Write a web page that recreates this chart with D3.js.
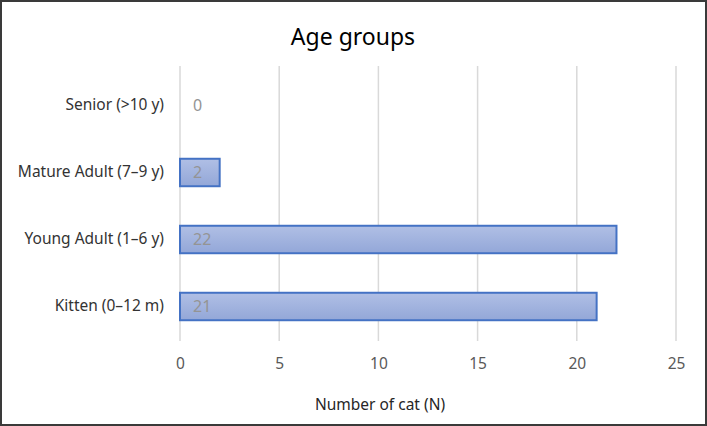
<!DOCTYPE html>
<html><head><meta charset="utf-8">
<script src="https://cdn.jsdelivr.net/npm/d3@7"></script>
<style>body{margin:0;background:#fff}svg{display:block}text{font-family:"Noto Sans","Open Sans",sans-serif}</style>
</head><body><svg id="c" width="707" height="426"></svg>
<script>
const categories = ["Senior (>10 y)", "Mature Adult (7\u20139 y)", "Young Adult (1\u20136 y)", "Kitten (0\u201312 m)"];
const values = [0, 2, 22, 21];
const tickValues = [0, 5, 10, 15, 20, 25];
const title = "Age groups";
const xTitle = "Number of cat (N)";

const svg = d3.select("#c");
const W = 707, H = 426;
const m = {l:180, r:31, t:72, b:86};
svg.append("rect").attr("x",1).attr("y",1).attr("width",W-2).attr("height",H-2)
  .attr("fill","#fff").attr("stroke","#3a3a3a").attr("stroke-width",2);

const defs = svg.append("defs");
const g = defs.append("linearGradient").attr("id","bg").attr("x1",0).attr("y1",0).attr("x2",0).attr("y2",1);
g.append("stop").attr("offset","0%").attr("stop-color","#b0bfe5");
g.append("stop").attr("offset","100%").attr("stop-color","#93a7d8");

const x = d3.scaleLinear().domain([0,25]).range([m.l, W-m.r]);
const y = d3.scaleBand().domain(categories).range([m.t, H-m.b]).paddingInner(0.59).paddingOuter(0.295);

// gridlines
svg.append("g").selectAll("line").data(tickValues).join("line")
  .attr("x1",d=>x(d)).attr("x2",d=>x(d)).attr("y1",m.t-6).attr("y2",H-m.b+1)
  .attr("stroke","#d9d9d9").attr("stroke-width",1.5);

// x axis labels
const xa = svg.append("g").attr("transform",`translate(0,${H-m.b})`)
  .call(d3.axisBottom(x).tickValues(tickValues).tickSize(0).tickPadding(18));
xa.select(".domain").remove();
xa.selectAll("text").attr("fill","#595959").attr("font-size",15.5).attr("font-family","Noto Sans");

// y axis labels
const ya = svg.append("g").attr("transform",`translate(${m.l},0)`)
  .call(d3.axisLeft(y).tickSize(0).tickPadding(16));
ya.select(".domain").remove();
ya.selectAll("text").attr("fill","#333").attr("font-size",15.5).attr("font-family","Noto Sans");

// bars
svg.append("g").selectAll("rect").data(values).join("rect")
  .filter(d=>d>0)
  .attr("x",x(0)).attr("y",(d,i)=>y(categories[values.indexOf(d)]))
  .attr("width",d=>x(d)-x(0)).attr("height",y.bandwidth())
  .attr("fill","url(#bg)").attr("stroke","#4472c4").attr("stroke-width",2);

// value labels
svg.append("g").selectAll("text").data(values).join("text")
  .attr("x",x(0)+ 13).attr("y",(d,i)=>y(categories[i])+y.bandwidth()/2)
  .attr("dy","0.36em").attr("fill","#949494").attr("font-size",16)
  .text(d=>d);

svg.append("text").attr("x",353).attr("y",45).attr("text-anchor","middle")
  .attr("fill","#000").attr("font-size",23).text(title);
svg.append("text").attr("x",380).attr("y",410).attr("text-anchor","middle")
  .attr("fill","#262626").attr("font-size",15.5).text(xTitle);
</script></body></html>
